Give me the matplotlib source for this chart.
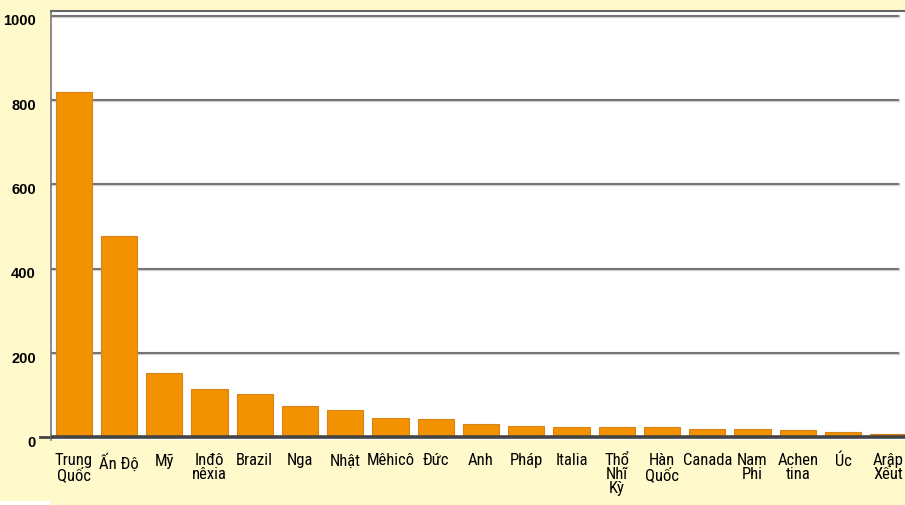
import numpy as np
import matplotlib.pyplot as plt
import matplotlib.transforms as mtrans
from matplotlib.patches import Rectangle

# Data
countries = ["Trung\nQuốc", "Ấn Độ", "Mỹ", "Inđô\nnêxia", "Brazil", "Nga", "Nhật",
             "Mêhicô", "Đức", "Anh", "Pháp", "Italia", "Thổ\nNhĩ\nKỳ", "Hàn\nQuốc",
             "Canada", "Nam\nPhi", "Achen\ntina", "Úc", "Arập\nXếut"]
values = [819, 477, 154, 116, 104, 75, 65, 47, 43, 32, 28, 26, 26, 26, 20, 19, 18, 12, 9]
yticks = [0, 200, 400, 600, 800, 1000]

BG = "#FFF9CC"
BAR = "#F39200"
GRID = "#5a5a5a"
NARROW = ["Roboto Condensed", "Archivo Narrow", "Barlow Semi Condensed", "DejaVu Sans"]

W, H = 905, 506
fig = plt.figure(figsize=(W / 100, H / 100), dpi=100, facecolor=BG)

# white corner at bottom left, yellow strip below the axis
fig.patches.append(Rectangle((0, 0), 50 / W, 4 / H, transform=fig.transFigure,
                             facecolor="white", edgecolor="none", zorder=-2))
fig.patches.append(Rectangle((50 / W, 0), 1, (H - 441) / H, transform=fig.transFigure,
                             facecolor=BG, edgecolor="none", zorder=-1))

ax = fig.add_axes([51 / W, (H - 441) / H, (W - 51) / W, (441 - 12) / H])
ax.set_facecolor("white")

x = np.arange(len(countries))
ax.bar(x, values, width=0.8, color=BAR, edgecolor="#d8831a", linewidth=0.8, zorder=3)

ax.set_xlim(-0.5, 18.37)
ax.set_ylim(-6, 1011)

# gridlines stop a little before the right edge
for y in yticks[1:]:
    ax.axhline(y, xmax=0.992, color="#d0d0d0", linewidth=2.4, zorder=1)
    ax.axhline(y, xmax=0.992, color=GRID, linewidth=1.1, zorder=2)
ax.axhline(0, color="#444444", linewidth=2.6, zorder=4)
ax.plot([-0.75, -0.5], [0, 0], color="#444444", linewidth=2.0, clip_on=False)

for s in ["right", "bottom"]:
    ax.spines[s].set_visible(False)
ax.spines["left"].set_color("#777777")
ax.spines["left"].set_linewidth(1.2)
ax.spines["top"].set_color("#666666")
ax.spines["top"].set_linewidth(1.5)

ax.set_yticks(yticks)
ax.set_yticklabels([str(v) for v in yticks], fontsize=10.5, fontweight="bold",
                   family=["Liberation Sans", "DejaVu Sans"])
ax.tick_params(axis="y", length=0, pad=11)
off = mtrans.ScaledTranslation(0, -3 / 100, fig.dpi_scale_trans)
for lbl in ax.get_yticklabels():
    lbl.set_transform(lbl.get_transform() + off)

ax.set_xticks(x)
ax.set_xticklabels(countries, fontsize=12, linespacing=0.9, family=NARROW)
ax.tick_params(axis="x", length=0, pad=9)

fig.savefig("out.png", dpi=100, facecolor=BG)
